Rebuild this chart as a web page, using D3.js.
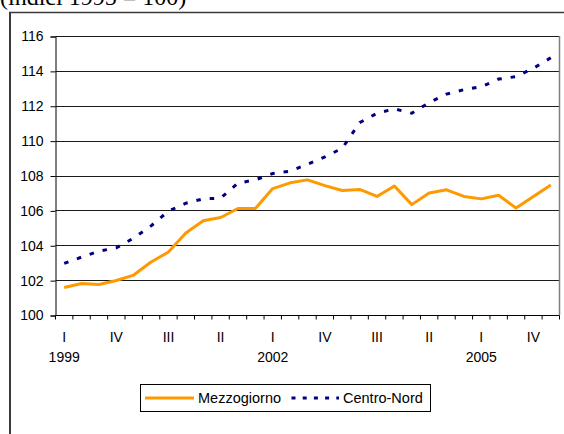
<!DOCTYPE html>
<html>
<head>
<meta charset="utf-8">
<script src="https://cdn.jsdelivr.net/npm/d3@7"></script>
<style>
  html, body { margin: 0; padding: 0; background: #fff; }
  svg { display: block; }
  text { font-family: "Liberation Sans", Arial, sans-serif; fill: #000; }
</style>
</head>
<body>
<svg id="chart" width="564" height="434"></svg>
<script>
// Quarterly periods, 1999 Q1 to 2006 Q1
const periods = ["1999-I","1999-II","1999-III","1999-IV","2000-I","2000-II","2000-III","2000-IV",
  "2001-I","2001-II","2001-III","2001-IV","2002-I","2002-II","2002-III","2002-IV",
  "2003-I","2003-II","2003-III","2003-IV","2004-I","2004-II","2004-III","2004-IV",
  "2005-I","2005-II","2005-III","2005-IV","2006-I"];

// Index values (1995 = 100)
const mezzogiorno = [101.58, 101.81, 101.75, 101.98, 102.29, 103.04, 103.61, 104.70, 105.40, 105.59,
  106.11, 106.11, 107.25, 107.58, 107.75, 107.42, 107.14, 107.20, 106.80, 107.40,
  106.33, 107.00, 107.18, 106.80, 106.66, 106.87, 106.13, 106.80, 107.46];
const centroNord = [102.96, 103.32, 103.66, 103.85, 104.41, 105.11, 105.96, 106.41, 106.66, 106.70,
  107.56, 107.75, 108.11, 108.25, 108.65, 109.07, 109.56, 111.03, 111.57, 111.82,
  111.57, 112.18, 112.67, 112.92, 113.09, 113.53, 113.67, 114.15, 114.75];

const yTicks = [100, 102, 104, 106, 108, 110, 112, 114, 116];
const seriesNames = ["Mezzogiorno", "Centro-Nord"];

const svg = d3.select("#chart");
const plotLeft = 55.5, plotRight = 559.5, plotTop = 36, plotBottom = 315;

// Outer chart frame (continues past the right and bottom edges)
svg.append("line").attr("x1", 10).attr("x2", 10).attr("y1", 12).attr("y2", 434)
  .attr("stroke", "#3a3a3a").attr("stroke-width", 2);
svg.append("line").attr("x1", 9).attr("x2", 564).attr("y1", 12.5).attr("y2", 12.5)
  .attr("stroke", "#3a3a3a").attr("stroke-width", 1.5);

// Subtitle, mostly above the visible area
svg.append("text").attr("x", 0).attr("y", 4.5)
  .style("font-family", "'Liberation Serif', 'Times New Roman', serif")
  .style("font-size", "24px")
  .text("(indici 1995 = 100)");

const x = d3.scaleBand().domain(periods).range([plotLeft, plotRight]).padding(0);
const y = d3.scaleLinear().domain([100, 116]).range([plotBottom, plotTop]);

// Horizontal gridlines
svg.append("g").selectAll("line").data(yTicks.filter(v => v > 100)).join("line")
  .attr("x1", plotLeft).attr("x2", plotRight)
  .attr("y1", d => Math.round(y(d)) + 0.5).attr("y2", d => Math.round(y(d)) + 0.5)
  .attr("stroke", "#1a1a1a").attr("stroke-width", 1);

// Plot area right border
svg.append("line").attr("x1", plotRight).attr("x2", plotRight).attr("y1", plotTop).attr("y2", plotBottom)
  .attr("stroke", "#808080").attr("stroke-width", 1.5);

// Y axis
const yAxis = d3.axisLeft(y).tickValues(yTicks).tickSize(5).tickPadding(7).tickFormat(d3.format("d"));
const gy = svg.append("g").attr("transform", `translate(${plotLeft},0.5)`).call(yAxis);
gy.select(".domain").attr("stroke", "#000");
gy.selectAll("text").style("font-size", "14px");

// X axis: tick marks on category boundaries, labels every third quarter
const gx = svg.append("g").attr("transform", `translate(0,${plotBottom + 0.5})`);
gx.append("line").attr("x1", plotLeft).attr("x2", plotRight).attr("stroke", "#000");
const bounds = d3.range(periods.length + 1).map(i => plotLeft + i * x.bandwidth());
gx.selectAll("line.tk").data(bounds).join("line").attr("class", "tk")
  .attr("x1", d => d).attr("x2", d => d).attr("y1", 0).attr("y2", 4).attr("stroke", "#000");

const labelled = periods.filter((p, i) => i % 3 === 0);
gx.selectAll("text.q").data(labelled).join("text").attr("class", "q")
  .attr("x", d => x(d) + x.bandwidth() / 2).attr("y", 26)
  .attr("text-anchor", "middle").style("font-size", "14px")
  .text(d => d.split("-")[1]);
gx.selectAll("text.yr").data(labelled.filter(d => d.endsWith("-I"))
    .filter(d => ["1999", "2002", "2005"].includes(d.split("-")[0]))).join("text").attr("class", "yr")
  .attr("x", d => x(d) + x.bandwidth() / 2).attr("y", 46)
  .attr("text-anchor", "middle").style("font-size", "14px")
  .text(d => d.split("-")[0]);

// Series lines
const line = d3.line().x((d, i) => x(periods[i]) + x.bandwidth() / 2).y(d => y(d));
svg.append("path").datum(mezzogiorno).attr("d", line)
  .attr("fill", "none").attr("stroke", "#FF9900").attr("stroke-width", 3)
  .attr("stroke-linejoin", "round");
svg.append("path").datum(centroNord).attr("d", line)
  .attr("fill", "none").attr("stroke", "#000080").attr("stroke-width", 3)
  .attr("stroke-dasharray", "4.5,9");

// Legend
const lg = svg.append("g");
lg.append("rect").attr("x", 140.5).attr("y", 384.5).attr("width", 290).attr("height", 27)
  .attr("fill", "#fff").attr("stroke", "#000").attr("stroke-width", 1);
lg.append("line").attr("x1", 145).attr("x2", 194).attr("y1", 398).attr("y2", 398)
  .attr("stroke", "#FF9900").attr("stroke-width", 3);
lg.append("text").attr("x", 198).attr("y", 403).style("font-size", "14.5px").text(seriesNames[0]);
lg.append("line").attr("x1", 291.5).attr("x2", 339).attr("y1", 398).attr("y2", 398)
  .attr("stroke", "#000080").attr("stroke-width", 3).attr("stroke-dasharray", "4,7.2");
lg.append("text").attr("x", 343).attr("y", 403).style("font-size", "14.5px").text(seriesNames[1]);
</script>
</body>
</html>
